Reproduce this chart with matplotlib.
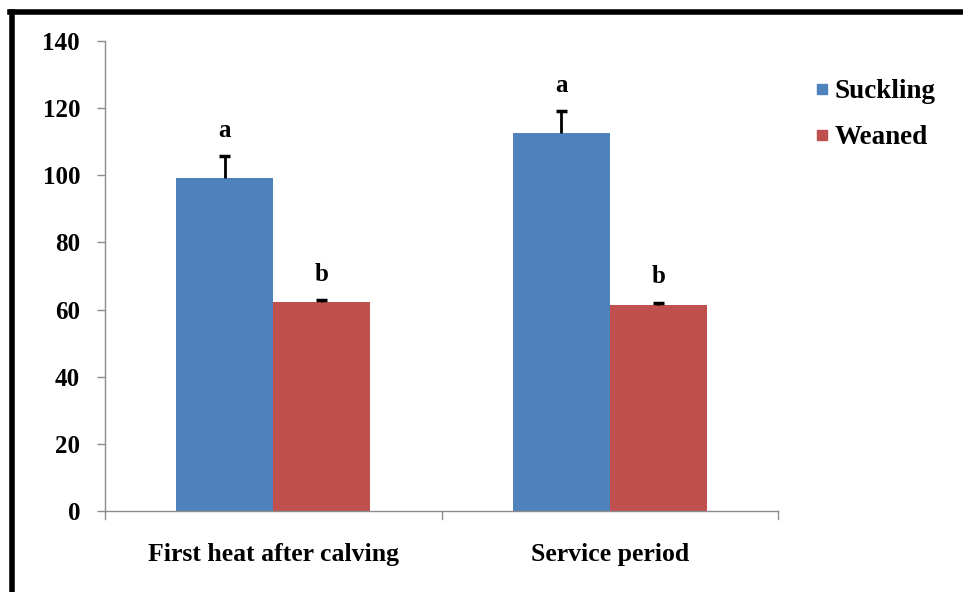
import matplotlib
matplotlib.use("Agg")
import matplotlib.pyplot as plt
from matplotlib.lines import Line2D
import numpy as np

categories = ["First heat after calving", "Service period"]
series_names = ["Suckling", "Weaned"]
suckling = [99.2, 112.5]
weaned = [62.4, 61.3]
suckling_err = [6.6, 6.6]
weaned_err = [0.5, 0.8]
suckling_letters = ["a", "a"]
weaned_letters = ["b", "b"]
yticks = [0, 20, 40, 60, 80, 100, 120, 140]

blue = "#4F81BD"
red = "#C0504D"
grey = "#8C8C8C"

plt.rcParams['font.family'] = ['Liberation Serif', 'DejaVu Serif']
plt.rcParams['font.weight'] = 'bold'

fig = plt.figure(figsize=(9.63, 5.92), dpi=100)
ax = fig.add_axes([105/963, 1-511/592, (778-105)/963, (511-41)/592])

x = np.arange(len(categories))
w = 0.288
ax.bar(x - w/2, suckling, w, color=blue, label=series_names[0])
ax.bar(x + w/2, weaned, w, color=red, label=series_names[1])

cap = 0.016
for xs, vals, errs in [(x - w/2, suckling, suckling_err), (x + w/2, weaned, weaned_err)]:
    for xi, v, e in zip(xs, vals, errs):
        ax.vlines(xi, v, v + e, color='black', lw=2)
        ax.hlines(v + e, xi - cap, xi + cap, color='black', lw=2.5)

for i in range(len(categories)):
    ax.text(x[i] - w/2, suckling[i] + suckling_err[i] + 4.2, suckling_letters[i],
            ha='center', va='bottom', fontsize=18, fontweight='bold')
    ax.text(x[i] + w/2, weaned[i] + weaned_err[i] + 4.2, weaned_letters[i],
            ha='center', va='bottom', fontsize=18, fontweight='bold')

ax.set_xlim(-0.5, 1.5)
ax.set_ylim(0, 140)
ax.set_yticks(yticks)
ax.set_yticklabels([str(t) for t in yticks], fontsize=18, fontweight='bold')
ax.set_xticks(x)
ax.set_xticklabels(categories, fontsize=18.5, fontweight='bold')
ax.tick_params(axis='x', length=0, pad=23)
ax.tick_params(axis='y', length=6, color=grey, width=1, pad=12)
for b in [-0.5, 0.5, 1.5]:
    ax.plot([b, b], [0, -0.0175*140], color=grey, lw=1, clip_on=False)
for s in ['top', 'right']:
    ax.spines[s].set_visible(False)
for s in ['left', 'bottom']:
    ax.spines[s].set_color(grey)
    ax.spines[s].set_linewidth(1)

handles = [Line2D([], [], marker='s', linestyle='none', markersize=7.5,
                  markerfacecolor=c, markeredgecolor=c) for c in [blue, red]]
fig.legend(handles, series_names, loc='upper left', bbox_to_anchor=(802/963, 1-79/592),
           frameon=False, handletextpad=-0.3, labelspacing=0.78, handlelength=1.5,
           borderaxespad=0, borderpad=0,
           prop={'weight': 'bold', 'size': 19.5})

# outer frame: thick left and top lines
fig.add_artist(Line2D([12/963, 12/963], [0, 1-12/592], color='black', lw=4,
                      transform=fig.transFigure))
fig.add_artist(Line2D([10/963, 1], [1-12/592, 1-12/592], color='black', lw=4,
                      transform=fig.transFigure))

fig.savefig("out.png", dpi=100)
